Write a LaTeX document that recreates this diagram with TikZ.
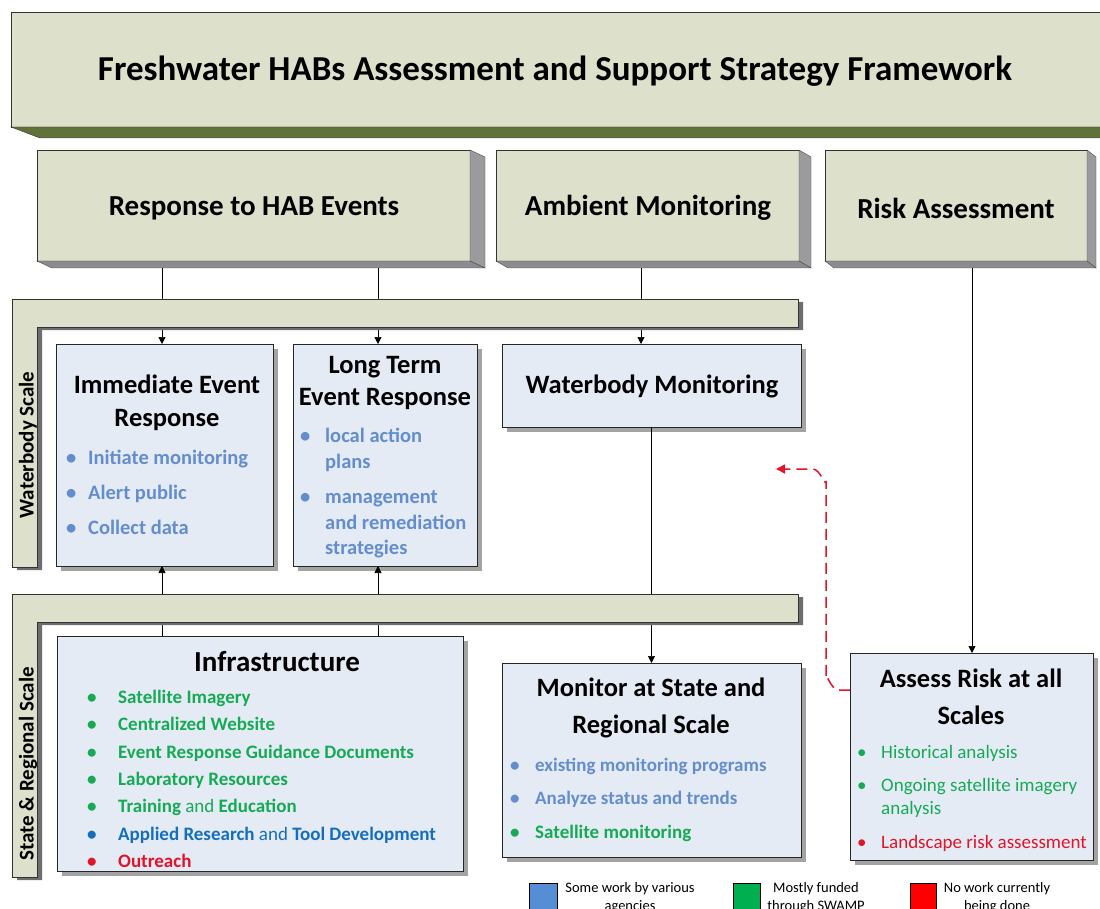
\documentclass[tikz,border=0pt]{standalone}
\usepackage{fontspec}
\setmainfont{Carlito}
\usetikzlibrary{arrows.meta,calc,shadows}
\definecolor{olivefill}{RGB}{221,224,203}
\definecolor{tband}{RGB}{96,113,58}
\definecolor{sidegray}{RGB}{155,155,158}
\definecolor{botgray}{RGB}{140,140,142}
\definecolor{bandshadow}{RGB}{110,110,110}
\definecolor{boxblue}{RGB}{229,235,245}
\definecolor{lblue}{RGB}{100,141,205}
\definecolor{dblue}{RGB}{20,110,190}
\definecolor{tgreen}{RGB}{22,170,85}
\definecolor{tred}{RGB}{225,20,40}
\definecolor{legblue}{RGB}{85,142,213}
\definecolor{leggreen}{RGB}{0,176,80}
\definecolor{legred}{RGB}{255,0,0}
\newcommand{\depthbox}[3]{%
  \filldraw[sidegray,draw=black!70] (#1.north east) -- ++(#2,#3) -- ($(#1.south east)+(#2,#3)$) -- (#1.south east) -- cycle;
  \filldraw[botgray,draw=black!70] (#1.south west) -- (#1.south east) -- ($(#1.south east)+(#2,#3)$) -- ($(#1.south west)+(#2,#3)$) -- cycle;}
\tikzset{
  olivebox/.style={draw=black!80, fill=olivefill, inner sep=0pt, outer sep=0pt},
  bluebox/.style={draw=black!85, fill=boxblue, inner sep=0pt, outer sep=0pt,
     drop shadow={shadow xshift=5pt, shadow yshift=-5pt, fill=black!45, opacity=0.8}},
  lvltwo/.style={font=\fontsize{29}{34}\selectfont\bfseries, inner sep=0pt, yshift=-2pt},
  subtitle/.style={font=\fontsize{26.5}{33}\selectfont\bfseries, align=center, inner sep=0pt, yshift=-1.5pt},
  item/.style={anchor=mid west, inner sep=0pt, font=\fontsize{20.5}{24}\selectfont\bfseries, yshift=-4pt},
  infitem/.style={anchor=mid west, inner sep=0pt, font=\fontsize{19}{23}\selectfont\bfseries, yshift=-4pt},
  ritem/.style={anchor=mid west, inner sep=0pt, font=\fontsize{19}{23}\selectfont, yshift=-4pt},
  scalelbl/.style={rotate=90, font=\fontsize{21}{24}\selectfont\bfseries, inner sep=0pt},
  legtxt/.style={font=\fontsize{14.5}{18}\selectfont, align=center, inner sep=0pt},
  legsq/.style={draw=black, inner sep=0pt, outer sep=0pt},
  arr/.style={draw=black, line width=0.7pt, -{Triangle[width=7pt,length=7pt]}},
  band/.style={draw=black!80, fill=olivefill, line width=0.7pt}
}
\begin{document}
\begin{tikzpicture}[x=1pt,y=-1pt]
\useasboundingbox (0,0) rectangle (1100,909);
\clip (0,0) rectangle (1100,909);

% Title
\node[olivebox, minimum width=1098pt, minimum height=115pt] (title) at (560,69.5) {};
\filldraw[tband, draw=black!80] (title.south west) -- (title.south east) -- ++(0,11) -- ($(title.south west)+(29,11)$) -- cycle;
\node[font=\fontsize{35}{40}\selectfont\bfseries, inner sep=0pt] (titletxt) at (555,71) {Freshwater HABs Assessment and Support Strategy Framework};

% Level two boxes
\node[olivebox, minimum width=433pt, minimum height=111pt] (resp) at (253.5,205.5) {};
\depthbox{resp}{15}{7}
\node[lvltwo] (resptxt) at (254,206) {Response to HAB Events};
\node[olivebox, minimum width=303pt, minimum height=111pt] (amb) at (647.5,205.5) {};
\depthbox{amb}{12}{7}
\node[lvltwo] (ambtxt) at (648,206) {Ambient Monitoring};
\node[olivebox, minimum width=262pt, minimum height=111pt] (risk) at (956,205.5) {};
\depthbox{risk}{9}{7}
\node[lvltwo] (risktxt) at (956,206) {Risk Assessment};

% Blue boxes
\node[bluebox, minimum width=217pt, minimum height=222pt] (imm) at (164.5,455) {};
\node[bluebox, minimum width=184pt, minimum height=222pt] (lt) at (385,455) {};
\node[bluebox, minimum width=299pt, minimum height=83pt] (wbm) at (651.5,385.5) {};
\node[bluebox, minimum width=406pt, minimum height=235pt] (infra) at (260,753.5) {};
\node[bluebox, minimum width=299pt, minimum height=194pt] (msr) at (651.5,760) {};
\node[bluebox, minimum width=243pt, minimum height=207pt] (assess) at (971.5,756.5) {};

% Immediate event response
\node[subtitle] (immt) at (167,401.5) {Immediate Event\\Response};
\node[item, text=lblue] (imm1) at (66,458) {\makebox[22pt][l]{\textbullet}Initiate monitoring};
\node[item, text=lblue] (imm2) at (66,493) {\makebox[22pt][l]{\textbullet}Alert public};
\node[item, text=lblue] (imm3) at (66,528) {\makebox[22pt][l]{\textbullet}Collect data};

% Long term
\node[subtitle, font=\fontsize{26.5}{32}\selectfont\bfseries] (ltt) at (385,381) {Long Term\\Event Response};
\node[item, text=lblue] (lt1) at (300,436) {\makebox[25pt][l]{\textbullet}local action};
\node[item, text=lblue] (lt1b) at (325,462) {plans};
\node[item, text=lblue] (lt2) at (300,497) {\makebox[25pt][l]{\textbullet}management};
\node[item, text=lblue] (lt2b) at (325,523) {and remediation};
\node[item, text=lblue] (lt2c) at (325,548) {strategies};

% Waterbody monitoring
\node[subtitle] (wbmt) at (652,385) {Waterbody Monitoring};

% Infrastructure
\node[subtitle, font=\fontsize{29}{33}\selectfont\bfseries] (inft) at (277,660) {Infrastructure};
\node[infitem, text=tgreen] (inf1) at (87,697) {\makebox[31pt][l]{\textbullet}Satellite Imagery};
\node[infitem, text=tgreen] (inf2) at (87,724.4) {\makebox[31pt][l]{\textbullet}Centralized Website};
\node[infitem, text=tgreen] (inf3) at (87,751.8) {\makebox[31pt][l]{\textbullet}Event Response Guidance Documents};
\node[infitem, text=tgreen] (inf4) at (87,779.2) {\makebox[31pt][l]{\textbullet}Laboratory Resources};
\node[infitem, text=tgreen] (inf5) at (87,806.6) {\makebox[31pt][l]{\textbullet}Training {\mdseries and} Education};
\node[infitem, text=dblue] (inf6) at (87,834) {\makebox[31pt][l]{\textbullet}Applied Research {\mdseries and} Tool Development};
\node[infitem, text=tred] (inf7) at (87,861.4) {\makebox[31pt][l]{\textbullet}Outreach};

% Monitor at state
\node[subtitle, font=\fontsize{26.5}{37}\selectfont\bfseries] (msrt) at (651,706.5) {Monitor at State and\\Regional Scale};
\node[item, font=\fontsize{19}{23}\selectfont\bfseries, text=lblue] (msr1) at (510,765) {\makebox[25pt][l]{\textbullet}existing monitoring programs};
\node[item, font=\fontsize{19}{23}\selectfont\bfseries, text=lblue] (msr2) at (510,798) {\makebox[25pt][l]{\textbullet}Analyze status and trends};
\node[item, font=\fontsize{19}{23}\selectfont\bfseries, text=tgreen] (msr3) at (510,832) {\makebox[25pt][l]{\textbullet}Satellite monitoring};

% Assess risk
\node[subtitle, font=\fontsize{26.5}{37}\selectfont\bfseries] (asst) at (971,695.5) {Assess Risk at all\\Scales};
\node[ritem, text=tgreen] (as1) at (857,752) {\makebox[24pt][l]{\textbullet}Historical analysis};
\node[ritem, text=tgreen] (as2) at (857,785) {\makebox[24pt][l]{\textbullet}Ongoing satellite imagery};
\node[ritem, text=tgreen] (as2b) at (881,808) {analysis};
\node[ritem, text=tred] (as3) at (857,842) {\makebox[24pt][l]{\textbullet}Landscape risk assessment};

% Connectors
\coordinate (c1) at (162,0);
\coordinate (c2) at (378,0);
\coordinate (c3) at (641,0);
\coordinate (c4) at (972,0);
\draw[arr] ($(resp.south -| c1)+(0,7)$) -- (imm.north -| c1);
\draw[arr] ($(resp.south -| c2)+(0,7)$) -- (lt.north -| c2);
\draw[arr] ($(amb.south -| c3)+(0,7)$) -- (wbm.north -| c3);
\draw[arr] (infra.north -| c1) -- (imm.south -| c1);
\draw[arr] (infra.north -| c2) -- (lt.south -| c2);
\draw[arr] (wbm.south) -- (msr.north);
\draw[arr] ($(risk.south -| c4)+(0,7)$) -- (assess.north -| c4);
\coordinate (redend) at (776,469);
\draw[tred, line width=1.5pt, dash pattern=on 11pt off 6pt, -{Triangle[width=9pt,length=9pt]}]
  (assess.west |- 0,690) -- (838,690) to[out=180,in=90] (826,678) -- (826,481) to[out=-90,in=0] (813,469) -- (redend);

% Scale bands
\fill[bandshadow] (17,302) -- (803,302) -- (803,330) -- (42,330) -- (42,570) -- (17,570) -- cycle;
\filldraw[band] (12,299) -- (798,299) -- (798,327) -- (37,327) -- (37,567) -- (12,567) -- cycle;
\node[scalelbl] (wsl) at (28,445) {Waterbody Scale};
\fill[bandshadow] (17,597) -- (803,597) -- (803,625) -- (42,625) -- (42,880) -- (17,880) -- cycle;
\filldraw[band] (12,594) -- (798,594) -- (798,622) -- (37,622) -- (37,877) -- (12,877) -- cycle;
\node[scalelbl] (ssl) at (28,764) {State \& Regional Scale};

% Legend
\node[legsq, fill=legblue, minimum width=28pt, minimum height=44pt] (lb) at (543,905) {};
\node[legtxt] (lbt) at (630,898) {Some work by various\\agencies};
\node[legsq, fill=leggreen, minimum width=27pt, minimum height=44pt] (lg) at (746.5,905) {};
\node[legtxt] (lgt) at (816,898) {Mostly funded\\through SWAMP};
\node[legsq, fill=legred, minimum width=26pt, minimum height=44pt] (lr) at (923,905) {};
\node[legtxt] (lrt) at (997,898) {No work currently\\being done};
\end{tikzpicture}
\end{document}
